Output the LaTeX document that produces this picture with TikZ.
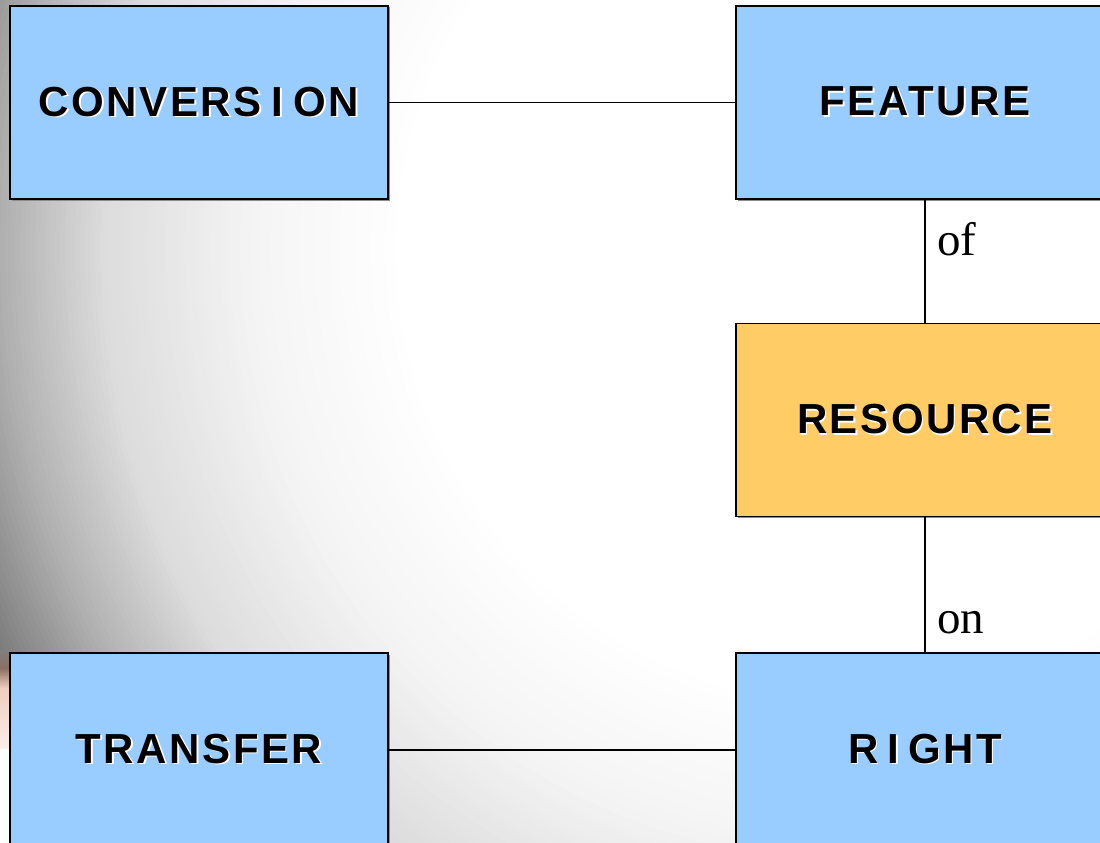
\documentclass[tikz,border=0pt]{standalone}
\usepackage{fontspec}
\setmainfont{Liberation Serif}
\newfontfamily\boxfont[LetterSpace=6.0]{Liberation Sans}
\usetikzlibrary{shadows}
\definecolor{boxblue}{HTML}{99CCFF}
\definecolor{boxorange}{HTML}{FFCC66}
\definecolor{skinA}{HTML}{8C6E62}
\definecolor{skinB}{HTML}{F0CDBE}
\definecolor{skinC}{HTML}{FBEEE8}
\newcommand{\shtext}[1]{\makebox[0pt][l]{\hspace{1.6pt}\raisebox{-1.6pt}{\color{white}#1}}#1}
\tikzset{
  entity/.style={draw=black, line width=1.5pt, minimum width=378pt, minimum height=193pt,
    inner sep=0pt, font=\boxfont\bfseries\fontsize{42}{50}\selectfont, text=black,
    drop shadow={shadow xshift=1.5pt, shadow yshift=-1.5pt, fill=black!45, opacity=1}},
  bluebox/.style={entity, fill=boxblue},
  orangebox/.style={entity, fill=boxorange},
  link/.style={draw=black, line width=1.5pt},
  rolelabel/.style={anchor=base west, inner sep=0pt, font=\fontsize{47}{56}\selectfont}
}
\begin{document}
\begin{tikzpicture}[x=1pt, y=-1pt]
\path[use as bounding box, clip] (0,0) rectangle (1100,843);
\fill[white] (0,0) rectangle (1100,843);
% background vignette, drawn as concentric discs from the outside in
\foreach \r in {960,955,...,450}{
  \pgfmathsetmacro\gv{\r>850 ? 176-(\r-850)*0.57 : (\r>750 ? 220-(\r-750)*0.44 : (\r>600 ? 244-(\r-600)*0.16 : 255-(\r-450)*0.0733))}
  \pgfmathsetmacro\gg{max(0,min(1,\gv/255))}
  \definecolor{vg}{gray}{\gg}
  \fill[vg] (850,250) circle [radius=\r];
}
\shade[top color=black!50, bottom color=skinA] (0,650) rectangle (9,668);
\shade[top color=skinA, bottom color=skinB] (0,668) rectangle (9,688);
\shade[top color=skinB, bottom color=skinC] (0,688) rectangle (9,748);

\node[bluebox] (conv) at (199,102.5) {\shtext{CONVERS\kern10pt I\kern10pt ON}};
\node[bluebox] (feat) at (925,102.5) {\shtext{FEATURE}};
\node[orangebox] (res) at (925,420) {\shtext{RESOURCE}};
\node[bluebox] (trans) at (199,749.5) {\shtext{TRANSFER}};
\node[bluebox] (right) at (925,749.5) {\shtext{R\kern9pt I\kern9pt GHT}};

\draw[link] (conv.east) -- (feat.west);
\draw[link] (feat.south) -- (res.north);
\draw[link] (res.south) -- (right.north);
\draw[link] (trans.east |- 0,750) -- (right.west |- 0,750);

\node[rolelabel] (lof) at (937,255) {of};
\node[rolelabel] (lon) at (937,633) {on};
\end{tikzpicture}
\end{document}
